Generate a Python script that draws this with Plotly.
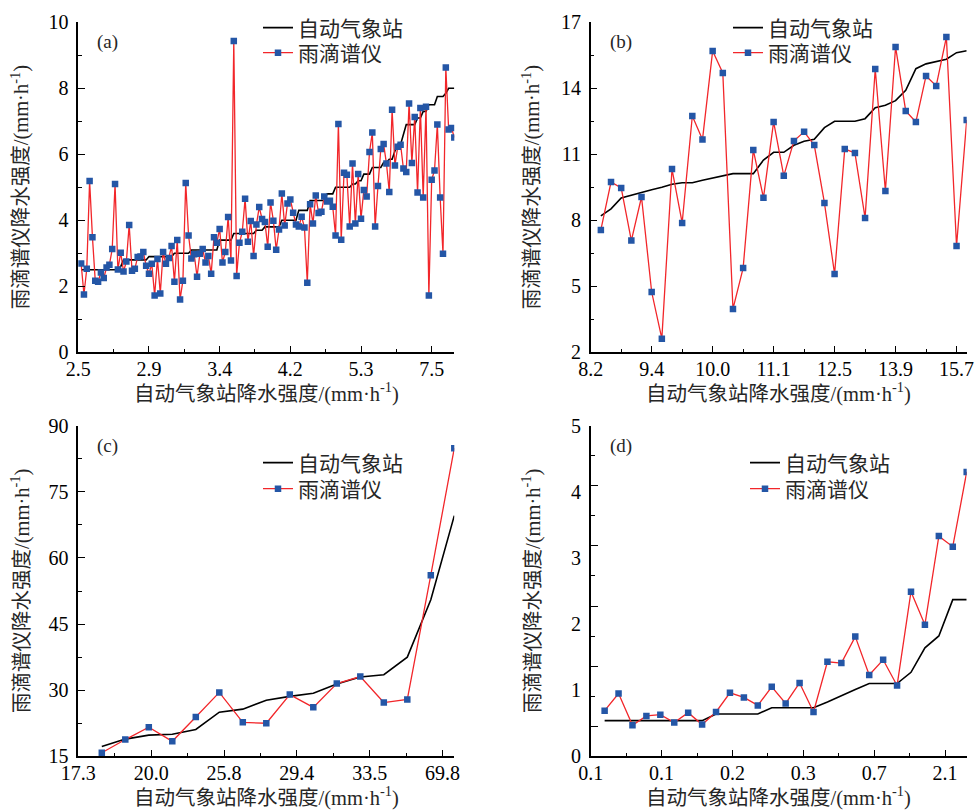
import plotly.graph_objects as go

# ---------------- data ----------------
# (a)
a_station = [
    2.5, 2.5, 2.5, 2.5, 2.5, 2.5, 2.5, 2.5, 2.5, 2.5, 2.5, 2.5, 2.5, 2.5,
    2.6,
    2.8, 2.8, 2.8, 2.8, 2.8, 2.8, 2.8, 2.8, 2.8,
    2.9, 2.9, 2.9, 2.9, 2.9, 2.9, 2.9, 2.9, 2.9,
    3.0, 3.0, 3.0, 3.0, 3.0, 3.0,
    3.1, 3.1, 3.1, 3.1, 3.1, 3.1, 3.1, 3.1, 3.1, 3.1,
    3.4, 3.4, 3.4, 3.4, 3.4,
    3.6, 3.6, 3.6, 3.6, 3.6, 3.6, 3.6, 3.6,
    3.7, 3.7, 3.7,
    3.8, 3.8, 3.8, 3.8, 3.8, 3.8,
    4.0, 4.0, 4.0, 4.0, 4.0, 4.0,
    4.3, 4.3, 4.3, 4.3,
    4.6, 4.6, 4.6, 4.6, 4.6, 4.6,
    4.8, 4.8, 4.8,
    5.0, 5.0, 5.0, 5.0, 5.0, 5.0,
    5.1, 5.1,
    5.2, 5.2,
    5.4, 5.4, 5.4,
    5.6, 5.6, 5.6, 5.6,
    5.75, 5.75,
    5.85, 5.85,
    6.1,
    6.3, 6.3,
    6.6,
    6.9, 6.9, 6.9, 6.9,
    7.1, 7.1,
    7.3, 7.3,
    7.5, 7.5, 7.5,
    7.75, 7.75, 7.75,
    7.85,
    8.0, 8.0, 8.0,
]
a_disdrometer = [
    2.69, 1.75, 2.53, 5.19, 3.49, 2.17, 2.14, 2.42, 2.25, 2.57,
    2.65, 3.13, 5.10, 2.51, 3.02, 2.45, 2.75, 3.86, 2.47, 2.53,
    2.89, 2.90, 3.04, 2.62, 2.38, 2.68, 1.72, 2.83, 1.78, 3.04,
    2.68, 2.86, 3.22, 2.14, 3.40, 1.60, 2.17, 5.13, 3.54, 2.84,
    2.97, 2.29, 2.99, 3.13, 2.72, 2.92, 2.38, 3.49, 3.32, 3.74,
    2.72, 3.04, 4.10, 2.78, 9.43, 2.31, 3.32, 3.65, 4.65, 3.35,
    3.98, 2.92, 3.87, 4.40, 4.04, 3.95, 3.20, 4.54, 3.99, 3.11,
    3.72, 4.81, 3.84, 4.51, 4.63, 4.23, 3.87, 3.81, 4.11, 3.78,
    2.11, 4.49, 3.90, 4.75, 4.22, 4.26, 4.72, 4.57, 4.59, 4.41,
    3.54, 6.92, 3.41, 5.44, 5.38, 3.81, 5.72, 3.90, 5.40, 4.05,
    4.92, 4.72, 6.07, 6.66, 3.81, 5.04, 6.16, 6.31, 5.72, 4.86,
    7.35, 5.66, 6.23, 6.29, 5.57, 5.46, 7.54, 5.74, 7.13, 4.84,
    7.40, 4.69, 7.44, 1.72, 5.23, 5.51, 6.90, 4.69, 2.99, 8.63,
    6.75, 6.80, 6.51,
]
a_ticktext = ["2.5", "2.9", "3.4", "4.2", "5.3", "7.5"]

# (b)
b_station = [
    8.20, 8.52, 9.02, 9.15, 9.27, 9.39, 9.50, 9.64, 9.71, 9.71,
    9.82, 9.92, 10.03, 10.12, 10.12, 10.12, 10.74, 11.09, 11.09, 11.41,
    11.59, 11.68, 12.21, 12.50, 12.50, 12.50, 12.62, 13.12, 13.23, 13.44,
    13.91, 14.89, 15.11, 15.21, 15.32, 15.62, 15.71,
]
b_disdrometer = [
    7.56, 9.74, 9.47, 7.08, 9.06, 4.74, 2.62, 10.33, 7.88, 12.74,
    11.67, 15.70, 14.70, 3.97, 5.83, 11.20, 9.02, 12.47, 10.02, 11.61,
    12.02, 11.42, 8.79, 5.56, 11.24, 11.06, 8.11, 14.88, 9.33, 15.88,
    12.97, 12.47, 14.56, 14.11, 16.33, 6.83, 12.56,
]
b_ticktext = ["8.2", "9.4", "10.0", "11.1", "12.5", "13.9", "15.7"]

# (c)
c_station = [
    17.2, 18.9, 19.8, 20.0, 21.1, 25.0, 25.7, 27.7, 28.6, 29.3,
    31.4, 33.0, 33.5, 37.5, 50.5, 69.6,
]
c_disdrometer = [
    15.8, 18.8, 21.6, 18.4, 23.9, 29.5, 22.7, 22.5, 29.0, 26.1,
    31.5, 33.1, 27.2, 27.9, 56.1, 84.9,
]
c_ticktext = ["17.3", "20.0", "25.8", "29.4", "33.5", "69.8"]

# (d)
d_station = [
    0.54, 0.54, 0.54, 0.54, 0.54, 0.54, 0.54, 0.54, 0.64, 0.64,
    0.64, 0.64, 0.735, 0.735, 0.735, 0.735, 0.82, 0.92, 1.01, 1.10,
    1.10, 1.10, 1.27, 1.64, 1.82, 2.37, 2.37,
]
d_disdrometer = [
    0.69, 0.95, 0.47, 0.61, 0.63, 0.51, 0.66, 0.48, 0.67, 0.96,
    0.89, 0.77, 1.05, 0.80, 1.11, 0.67, 1.43, 1.41, 1.81, 1.23,
    1.46, 1.07, 2.49, 1.99, 3.33, 3.17, 4.30,
]
d_ticktext = ["0.1", "0.1", "0.2", "0.3", "0.7", "2.1"]

NAME_AWS = "自动气象站"
NAME_DSD = "雨滴谱仪"
XTITLE = "自动气象站降水强度/(mm·h<sup>-1</sup>)"
YTITLE = "雨滴谱仪降水强度/(mm·h<sup>-1</sup>)"

# ---------------- styling ----------------
FONT = "Liberation Serif, Noto Sans CJK SC, serif"
RED = "#f2262a"
BLUE = "#2456a6"
TXT = "#262626"
W, H = 978, 810

# plot-area pixel boxes
L_X = (78.3, 454.3)
R_X = (590.7, 966.7)
T_Y = (22.3, 352.3)
B_Y = (425.7, 756.3)

panels = [
    dict(tag="(a)", st=a_station, ds=a_disdrometer, tt=a_ticktext, step=25,
         xr=[0, len(a_station)], xa="x", ya="y", legs=("legend", "legend2"),
         leg_x=258, leg_y=(28, 53)),
    dict(tag="(b)", st=b_station, ds=b_disdrometer, tt=b_ticktext, step=6,
         xr=[0, len(b_station)], xa="x2", ya="y2", legs=("legend3", "legend4"),
         leg_x=728, leg_y=(28, 53)),
    dict(tag="(c)", st=c_station, ds=c_disdrometer, tt=c_ticktext, step=3.1,
         xr=[0, len(c_station)], xa="x3", ya="y3", legs=("legend5", "legend6"),
         leg_x=258, leg_y=(463, 489)),
    dict(tag="(d)", st=d_station, ds=d_disdrometer, tt=d_ticktext, step=5.09,
         xr=[0, len(d_station)], xa="x4", ya="y4", legs=("legend7", "legend8"),
         leg_x=745, leg_y=(463, 489)),
]

fig = go.Figure()
for p in panels:
    idx = list(range(1, len(p["st"]) + 1))
    fig.add_trace(go.Scatter(
        x=idx, y=p["st"], mode="lines", name=NAME_AWS,
        line=dict(color="black", width=1.6),
        xaxis=p["xa"], yaxis=p["ya"], legend=p["legs"][0]))
    fig.add_trace(go.Scatter(
        x=idx, y=p["ds"], mode="lines+markers", name=NAME_DSD,
        line=dict(color=RED, width=1.3),
        marker=dict(symbol="square", size=6.5, color=BLUE),
        xaxis=p["xa"], yaxis=p["ya"], legend=p["legs"][1]))

xdom_l = [L_X[0] / W, L_X[1] / W]
xdom_r = [R_X[0] / W, R_X[1] / W]
ydom_t = [1 - T_Y[1] / H, 1 - T_Y[0] / H]
ydom_b = [1 - B_Y[1] / H, 1 - B_Y[0] / H]

tickfont = dict(family=FONT, size=20, color="black")
titlefont = dict(family=FONT, size=20.5, color=TXT)


def xaxis_cfg(p, dom, anchor):
    n = len(p["tt"])
    vals = [i * p["step"] for i in range(n)]
    minor_vals = [(i + 0.5) * p["step"] for i in range(n)]
    minor_vals = [v for v in minor_vals if v <= p["xr"][1]]
    return dict(domain=dom, anchor=anchor, range=p["xr"], automargin=False,
                showline=True, linecolor="black", linewidth=1.5,
                showgrid=False, zeroline=False,
                ticks="inside", ticklen=7, tickwidth=1.3, tickcolor="black",
                tickmode="array", tickvals=vals, ticktext=p["tt"],
                ticklabelstandoff=-2,
                minor=dict(tickmode="array", tickvals=minor_vals, ticks="inside",
                           ticklen=4, tickwidth=1.3, tickcolor="black", showgrid=False),
                tickfont=tickfont)


def yaxis_cfg(dom, anchor, rng, dt, mdt):
    return dict(domain=dom, anchor=anchor, range=rng, automargin=False,
                showline=True, linecolor="black", linewidth=1.5,
                showgrid=False, zeroline=False,
                ticks="inside", ticklen=7, tickwidth=1.3, tickcolor="black",
                tickmode="linear", tick0=rng[0], dtick=dt,
                ticklabelstandoff=4,
                minor=dict(tickmode="linear", tick0=rng[0], dtick=mdt, ticks="inside",
                           ticklen=4, tickwidth=1.3, tickcolor="black", showgrid=False),
                tickfont=tickfont)


layout = dict(
    width=W, height=H,
    margin=dict(l=0, r=0, t=0, b=0, autoexpand=False),
    paper_bgcolor="white", plot_bgcolor="white",
    xaxis=xaxis_cfg(panels[0], xdom_l, "y"),
    xaxis2=xaxis_cfg(panels[1], xdom_r, "y2"),
    xaxis3=xaxis_cfg(panels[2], xdom_l, "y3"),
    xaxis4=xaxis_cfg(panels[3], xdom_r, "y4"),
    yaxis=yaxis_cfg(ydom_t, "x", [0, 10], 2, 1),
    yaxis2=yaxis_cfg(ydom_t, "x2", [2, 17], 3, 1.5),
    yaxis3=yaxis_cfg(ydom_b, "x3", [15, 90], 15, 7.5),
    yaxis4=yaxis_cfg(ydom_b, "x4", [0, 5], 1, 0.5),
)
# panel (d): labels 0..5 but tick marks at a different spacing (as in the original)
layout["yaxis4"].update(ticks="", minor=dict(ticks=""))
d_tick_step = 5 / 5.5
layout["yaxis5"] = dict(
    domain=ydom_b, anchor="x4", overlaying="y4", side="left", range=[0, 5],
    automargin=False,
    showline=False, showgrid=False, zeroline=False, showticklabels=False,
    ticks="inside", ticklen=7, tickwidth=1.3, tickcolor="black",
    tickmode="array", tickvals=[5 - i * d_tick_step for i in range(6)],
    minor=dict(tickmode="array",
               tickvals=[5 - (i + 0.5) * d_tick_step for i in range(6)],
               ticks="inside", ticklen=4, tickwidth=1.3, tickcolor="black",
               showgrid=False))

legfont = dict(family=FONT, size=21, color=TXT)
for p in panels:
    for leg, ly in zip(p["legs"], p["leg_y"]):
        layout[leg] = dict(x=p["leg_x"] / W, y=1 - ly / H, xanchor="left", yanchor="middle",
                           bgcolor="rgba(0,0,0,0)", borderwidth=0,
                           font=legfont, itemwidth=30, tracegroupgap=0)

fig.update_layout(**layout)
# empty helper trace so the tick-only axis of panel (d) is drawn
fig.add_trace(go.Scatter(x=[None], y=[None], xaxis="x4", yaxis="y5",
                         showlegend=False, hoverinfo="skip"))

# panel tags
for p in panels:
    fig.add_annotation(text=p["tag"], xref=p["xa"] + " domain", yref=p["ya"] + " domain",
                       x=0.045, y=0.94, xanchor="left", yanchor="middle",
                       showarrow=False, font=dict(family=FONT, size=19, color=TXT))

# axis titles
for (xr_, yr_, ytitle_x) in [(L_X, T_Y, 20), (R_X, T_Y, 531), (L_X, B_Y, 20), (R_X, B_Y, 531)]:
    fig.add_annotation(text=XTITLE, xref="paper", yref="paper",
                       x=(xr_[0] + xr_[1]) / 2 / W, y=1 - (yr_[1] + 40) / H,
                       xanchor="center", yanchor="middle", showarrow=False,
                       font=titlefont)
    fig.add_annotation(text=YTITLE, xref="paper", yref="paper",
                       x=ytitle_x / W, y=1 - (yr_[0] + yr_[1]) / 2 / H,
                       xanchor="center", yanchor="middle", showarrow=False,
                       textangle=-90, font=titlefont)

fig.write_html("out.html", config={"displayModeBar": False},
               post_script="document.body.style.margin='0';document.body.style.overflow='hidden';")
